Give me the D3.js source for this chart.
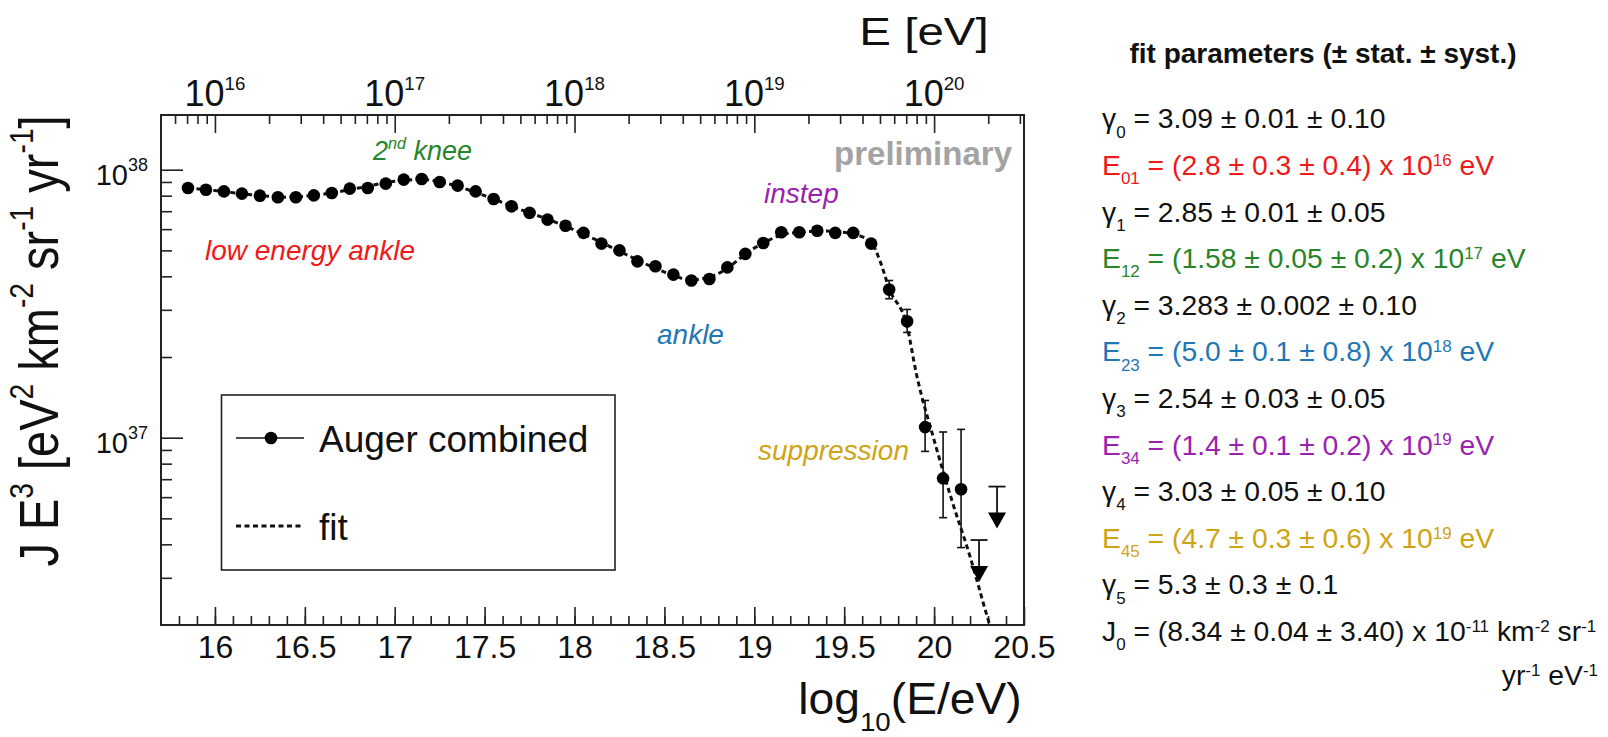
<!DOCTYPE html>
<html>
<head>
<meta charset="utf-8">
<script src="https://cdn.jsdelivr.net/npm/d3@7"></script>
<style>
  body { margin: 0; background: #fff; }
  text { font-family: "Liberation Sans", Arial, sans-serif; white-space: pre; }
</style>
</head>
<body>
<div id="chart"></div>
<script>
// Auger combined spectrum, J E^3 in units of 1e37 eV^2 km^-2 sr^-1 yr^-1
var logE = [15.85, 15.95, 16.05, 16.15, 16.25, 16.35, 16.45, 16.55, 16.65, 16.75,
            16.85, 16.95, 17.05, 17.15, 17.25, 17.35, 17.45, 17.55, 17.65, 17.75,
            17.85, 17.95, 18.05, 18.15, 18.25, 18.35, 18.45, 18.55, 18.65, 18.75,
            18.85, 18.95, 19.05, 19.15, 19.25, 19.35, 19.45, 19.55, 19.65, 19.75,
            19.85, 19.95, 20.05, 20.15];
var jE3 = [8.55, 8.42, 8.30, 8.14, 8.00, 7.89, 7.89, 8.02, 8.19, 8.50,
           8.55, 8.87, 9.18, 9.23, 9.00, 8.72, 8.30, 7.77, 7.30, 6.90,
           6.51, 6.18, 5.81, 5.30, 5.00, 4.55, 4.36, 4.06, 3.86, 3.91,
           4.32, 4.85, 5.33, 5.84, 5.84, 5.92, 5.81, 5.81, 5.30, 3.57,
           2.72, 1.095, 0.705, 0.642];
var errHi = [0.03, 0.03, 0.03, 0.03, 0.03, 0.03, 0.03, 0.03, 0.03, 0.03,
             0.03, 0.03, 0.03, 0.03, 0.03, 0.03, 0.03, 0.03, 0.03, 0.03,
             0.03, 0.03, 0.03, 0.03, 0.03, 0.03, 0.03, 0.03, 0.03, 0.03,
             0.04, 0.04, 0.05, 0.06, 0.07, 0.08, 0.09, 0.10, 0.12, 0.29,
             0.29, 0.282, 0.345, 0.432];
var errLo = [0.03, 0.03, 0.03, 0.03, 0.03, 0.03, 0.03, 0.03, 0.03, 0.03,
             0.03, 0.03, 0.03, 0.03, 0.03, 0.03, 0.03, 0.03, 0.03, 0.03,
             0.03, 0.03, 0.03, 0.03, 0.03, 0.03, 0.03, 0.03, 0.03, 0.03,
             0.04, 0.04, 0.05, 0.06, 0.07, 0.08, 0.09, 0.10, 0.12, 0.27,
             0.25, 0.206, 0.202, 0.253];

// upper limits
var limitLogE = [20.25, 20.35];
var limitJ = [0.415, 0.657];

// fit curve
var fitLogE = [15.85, 16.0, 16.2, 16.4, 16.6, 16.8, 17.0, 17.15, 17.3, 17.5,
               17.7, 17.9, 18.1, 18.3, 18.5, 18.65, 18.8, 19.0, 19.2, 19.4,
               19.55, 19.65, 19.7, 19.75, 19.85, 19.9, 20.0, 20.1, 20.2, 20.3, 20.4];
var fitJ = [8.55, 8.36, 8.07, 7.90, 8.10, 8.55, 9.05, 9.20, 8.85, 8.00,
            7.10, 6.35, 5.55, 4.78, 4.15, 3.88, 4.10, 5.10, 5.80, 5.90,
            5.75, 5.35, 4.55, 3.60, 2.60, 1.75, 0.98, 0.58, 0.36, 0.21, 0.13];

// axis ticks
var bottomTicks = [16, 16.5, 17, 17.5, 18, 18.5, 19, 19.5, 20, 20.5];
var topExps = [16, 17, 18, 19, 20];
var leftExps = [37, 38];

// fit parameter text
var paramLines = [
  "γ_{0} = 3.09 ± 0.01 ± 0.10",
  "E_{01} = (2.8 ± 0.3 ± 0.4) x 10^{16} eV",
  "γ_{1} = 2.85 ± 0.01 ± 0.05",
  "E_{12} = (1.58 ± 0.05 ± 0.2) x 10^{17} eV",
  "γ_{2} = 3.283 ± 0.002 ± 0.10",
  "E_{23} = (5.0 ± 0.1 ± 0.8) x 10^{18} eV",
  "γ_{3} = 2.54 ± 0.03 ± 0.05",
  "E_{34} = (1.4 ± 0.1 ± 0.2) x 10^{19} eV",
  "γ_{4} = 3.03 ± 0.05 ± 0.10",
  "E_{45} = (4.7 ± 0.3 ± 0.6) x 10^{19} eV",
  "γ_{5} = 5.3 ± 0.3 ± 0.1",
  "J_{0} = (8.34 ± 0.04 ± 3.40) x 10^{-11} km^{-2} sr^{-1}"
];
var paramColors = ["#111", "#ee1a1a", "#111", "#27852a", "#111", "#1f78b4",
                   "#111", "#9b22b0", "#111", "#cfa414", "#111", "#111"];

var svgWidth = 1608;
var svgHeight = 737;

var svg = d3.select("#chart")
    .append("svg")
    .attr("width", svgWidth)
    .attr("height", svgHeight)
    .style("background", "#fff");

var frame = {left: 161, right: 1024, top: 115, bottom: 625};

var x = d3.scaleLinear()
    .domain([15.7, 20.5])
    .range([frame.left, frame.right]);

var y = d3.scaleLog()
    .domain([0.2, 16])
    .range([frame.bottom, frame.top]);

// text with ^{sup} and _{sub}
function rich(sel, str, fs, supUp, subDown, small) {
  small = small || 0.6;
  var re = /([_^])\{([^}]*)\}/g, parts = [], last = 0, m;
  while ((m = re.exec(str))) {
    if (m.index > last) parts.push({t: str.slice(last, m.index), k: ""});
    parts.push({t: m[2], k: m[1]});
    last = re.lastIndex;
  }
  if (last < str.length) parts.push({t: str.slice(last), k: ""});
  var cur = 0;
  parts.forEach(function(p) {
    var target = p.k == "^" ? -supUp * fs : p.k == "_" ? subDown * fs : 0;
    sel.append("tspan")
      .attr("dy", target - cur)
      .style("font-size", (p.k ? small * fs : fs) + "px")
      .text(p.t);
    cur = target;
  });
  return sel;
}

// Bottom axis (inner ticks)
var minorBottom = d3.range(158, 205).map(function(d) { return d / 10; });
svg.append("g")
    .attr("transform", `translate(0, ${frame.bottom})`)
    .attr("color", "#222")
    .call(d3.axisBottom(x).tickValues(minorBottom).tickSize(-9).tickFormat(""))
    .call(function(g) { g.select(".domain").remove(); });

svg.append("g")
    .attr("transform", `translate(0, ${frame.bottom})`)
    .attr("color", "#222")
    .call(d3.axisBottom(x).tickValues(bottomTicks).tickSize(-18).tickFormat(function(d) { return d; }))
    .call(function(g) {
      g.select(".domain").remove();
      g.selectAll("text").attr("y", 33).attr("dy", 0)
        .style("font-size", "32px").attr("fill", "#111");
    });

// Top axis, E in eV (log ticks)
var topMinor = [], topMajor = [];
for (var n = 15; n <= 20; n++) {
  for (var k = 1; k <= 9; k++) {
    var v = n + Math.log10(k);
    if (v > 15.7 && v < 20.5) (k == 1 ? topMajor : topMinor).push(v);
  }
}
svg.append("g")
    .attr("transform", `translate(0, ${frame.top})`)
    .attr("color", "#222")
    .call(d3.axisTop(x).tickValues(topMinor).tickSize(-9).tickFormat(""))
    .call(function(g) { g.select(".domain").remove(); });
svg.append("g")
    .attr("transform", `translate(0, ${frame.top})`)
    .attr("color", "#222")
    .call(d3.axisTop(x).tickValues(topMajor).tickSize(-18).tickFormat(""))
    .call(function(g) { g.select(".domain").remove(); });

topExps.forEach(function(e) {
  var t = svg.append("text")
      .attr("x", x(e))
      .attr("y", 106)
      .attr("text-anchor", "middle")
      .attr("fill", "#111");
  rich(t, "10^{" + e + "}", 36, 0.44, 0, 0.52);
});

// Left axis (inner ticks)
var leftMinor = [], leftMajor = [];
for (var n2 = 36; n2 <= 38; n2++) {
  for (var k2 = 1; k2 <= 9; k2++) {
    var v2 = k2 * Math.pow(10, n2 - 37);
    if (v2 > 0.2 && v2 < 16) (k2 == 1 ? leftMajor : leftMinor).push(v2);
  }
}
svg.append("g")
    .attr("transform", `translate(${frame.left}, 0)`)
    .attr("color", "#222")
    .call(d3.axisLeft(y).tickValues(leftMinor).tickSize(-11).tickFormat(""))
    .call(function(g) { g.select(".domain").remove(); });
svg.append("g")
    .attr("transform", `translate(${frame.left}, 0)`)
    .attr("color", "#222")
    .call(d3.axisLeft(y).tickValues(leftMajor).tickSize(-22).tickFormat(""))
    .call(function(g) { g.select(".domain").remove(); });

leftExps.forEach(function(e) {
  var t = svg.append("text")
      .attr("x", 148)
      .attr("y", y(Math.pow(10, e - 37)) + 15)
      .attr("text-anchor", "end")
      .attr("fill", "#111");
  rich(t, "10^{" + e + "}", 29, 0.47, 0, 0.62);
});

svg.selectAll(".tick line").attr("stroke-width", 1.6);

// Frame
svg.append("rect")
    .attr("x", frame.left)
    .attr("y", frame.top)
    .attr("width", frame.right - frame.left)
    .attr("height", frame.bottom - frame.top)
    .attr("fill", "none")
    .attr("stroke", "#222")
    .attr("stroke-width", 2);

// Axis titles
var yTitle = svg.append("g")
    .attr("transform", "translate(58, 341) rotate(-90) scale(1, 1.18)")
    .append("text")
    .attr("text-anchor", "middle")
    .attr("fill", "#111");
rich(yTitle, "J E^{3} [eV^{2} km^{-2} sr^{-1} yr^{-1}]", 47, 0.45, 0);

var xTitle = svg.append("g")
    .attr("transform", "translate(910, 714) scale(1.05, 1)")
    .append("text")
    .attr("text-anchor", "middle")
    .attr("fill", "#111");
rich(xTitle, "log_{10}(E/eV)", 44, 0, 0.38);

svg.append("g")
    .attr("transform", "translate(924, 45) scale(1.25, 1)")
    .append("text")
    .attr("text-anchor", "middle")
    .attr("fill", "#111")
    .style("font-size", "38px")
    .text("E [eV]");

// Plot clip
svg.append("clipPath").attr("id", "plotClip")
  .append("rect")
    .attr("x", frame.left)
    .attr("y", frame.top)
    .attr("width", frame.right - frame.left)
    .attr("height", frame.bottom - frame.top);

var plot = svg.append("g").attr("clip-path", "url(#plotClip)");

// Fit line
var fitData = fitLogE.map(function(d, i) { return [d, fitJ[i]]; });
var fitLine = d3.line()
    .x(function(d) { return x(d[0]); })
    .y(function(d) { return y(d[1]); })
    .curve(d3.curveMonotoneX);

plot.append("path")
    .datum(fitData)
    .attr("d", fitLine)
    .attr("fill", "none")
    .attr("stroke", "#111")
    .attr("stroke-width", 3)
    .attr("stroke-dasharray", "5,3.5");

// Data points with error bars
var points = logE.map(function(d, i) {
  return {e: d, j: jE3[i], hi: jE3[i] + errHi[i], lo: jE3[i] - errLo[i]};
});

plot.selectAll(".errbar")
    .data(points)
    .enter()
    .append("line")
    .attr("class", "errbar")
    .attr("x1", function(d) { return x(d.e); })
    .attr("x2", function(d) { return x(d.e); })
    .attr("y1", function(d) { return y(d.hi); })
    .attr("y2", function(d) { return y(d.lo); })
    .attr("stroke", "#111")
    .attr("stroke-width", 1.6);

["hi", "lo"].forEach(function(key) {
  plot.selectAll(".cap-" + key)
      .data(points)
      .enter()
      .append("line")
      .attr("x1", function(d) { return x(d.e) - 4; })
      .attr("x2", function(d) { return x(d.e) + 4; })
      .attr("y1", function(d) { return y(d[key]); })
      .attr("y2", function(d) { return y(d[key]); })
      .attr("stroke", "#111")
      .attr("stroke-width", 1.6);
});

plot.selectAll("circle")
    .data(points)
    .enter()
    .append("circle")
    .attr("cx", function(d) { return x(d.e); })
    .attr("cy", function(d) { return y(d.j); })
    .attr("r", 6.3)
    .attr("fill", "#000");

// Upper limits: cap, stem and arrow head
var limits = limitLogE.map(function(d, i) { return {e: d, j: limitJ[i]}; });
var lim = plot.selectAll(".limit")
    .data(limits)
    .enter()
    .append("g")
    .attr("class", "limit")
    .attr("transform", function(d) { return `translate(${x(d.e)}, ${y(d.j)})`; });
lim.append("line").attr("x1", -8.5).attr("x2", 8.5)
    .attr("stroke", "#111").attr("stroke-width", 1.8);
lim.append("line").attr("y1", 0).attr("y2", 27)
    .attr("stroke", "#111").attr("stroke-width", 1.8);
lim.append("path").attr("d", "M-9,26 L9,26 L0,42 Z").attr("fill", "#000");

// Annotations
function note(px, py, str, color, size, anchor, weight, italic) {
  var t = svg.append("text")
      .attr("x", px)
      .attr("y", py)
      .attr("text-anchor", anchor || "start")
      .attr("fill", color)
      .style("font-weight", weight || "normal")
      .style("font-style", italic ? "italic" : "normal");
  rich(t, str, size, 0.4, 0);
}
note(205, 260, "low energy ankle", "#ee1a1a", 28, "start", null, true);
note(373, 160, "2^{nd} knee", "#27852a", 27, "start", null, true);
note(657, 344, "ankle", "#1f78b4", 28, "start", null, true);
note(764, 203, "instep", "#9b22b0", 28, "start", null, true);
note(758, 460, "suppression", "#cfa414", 28, "start", null, true);
note(1012, 165, "preliminary", "#a3a3a3", 33, "end", "bold", false);

// Legend
var legend = svg.append("g");
legend.append("rect")
    .attr("x", 221.5)
    .attr("y", 395)
    .attr("width", 393.5)
    .attr("height", 175)
    .attr("fill", "#fff")
    .attr("stroke", "#222")
    .attr("stroke-width", 1.6);
legend.append("line")
    .attr("x1", 236).attr("x2", 304).attr("y1", 438).attr("y2", 438)
    .attr("stroke", "#111").attr("stroke-width", 1.6);
legend.append("circle")
    .attr("cx", 271).attr("cy", 438).attr("r", 6.3).attr("fill", "#000");
legend.append("line")
    .attr("x1", 236).attr("x2", 304).attr("y1", 526).attr("y2", 526)
    .attr("stroke", "#111").attr("stroke-width", 3).attr("stroke-dasharray", "5,3.5");
legend.append("text")
    .attr("x", 319).attr("y", 452)
    .style("font-size", "37px").attr("fill", "#111")
    .text("Auger combined");
legend.append("text")
    .attr("x", 319).attr("y", 540)
    .style("font-size", "37px").attr("fill", "#111")
    .text("fit");

// Fit parameters panel
svg.append("text")
    .attr("x", 1323)
    .attr("y", 63)
    .attr("text-anchor", "middle")
    .style("font-size", "28px")
    .style("font-weight", "bold")
    .attr("fill", "#111")
    .text("fit parameters (± stat. ± syst.)");

paramLines.forEach(function(line, i) {
  var t = svg.append("text")
      .attr("x", 1102)
      .attr("y", 128.3 + i * 46.6)
      .attr("fill", paramColors[i]);
  rich(t, line, 28.3, 0.32, 0.33);
});

var last = svg.append("text")
    .attr("x", 1598)
    .attr("y", 685)
    .attr("text-anchor", "end")
    .attr("fill", "#111");
rich(last, "yr^{-1} eV^{-1}", 28.3, 0.32, 0.33);
</script>
</body>
</html>
